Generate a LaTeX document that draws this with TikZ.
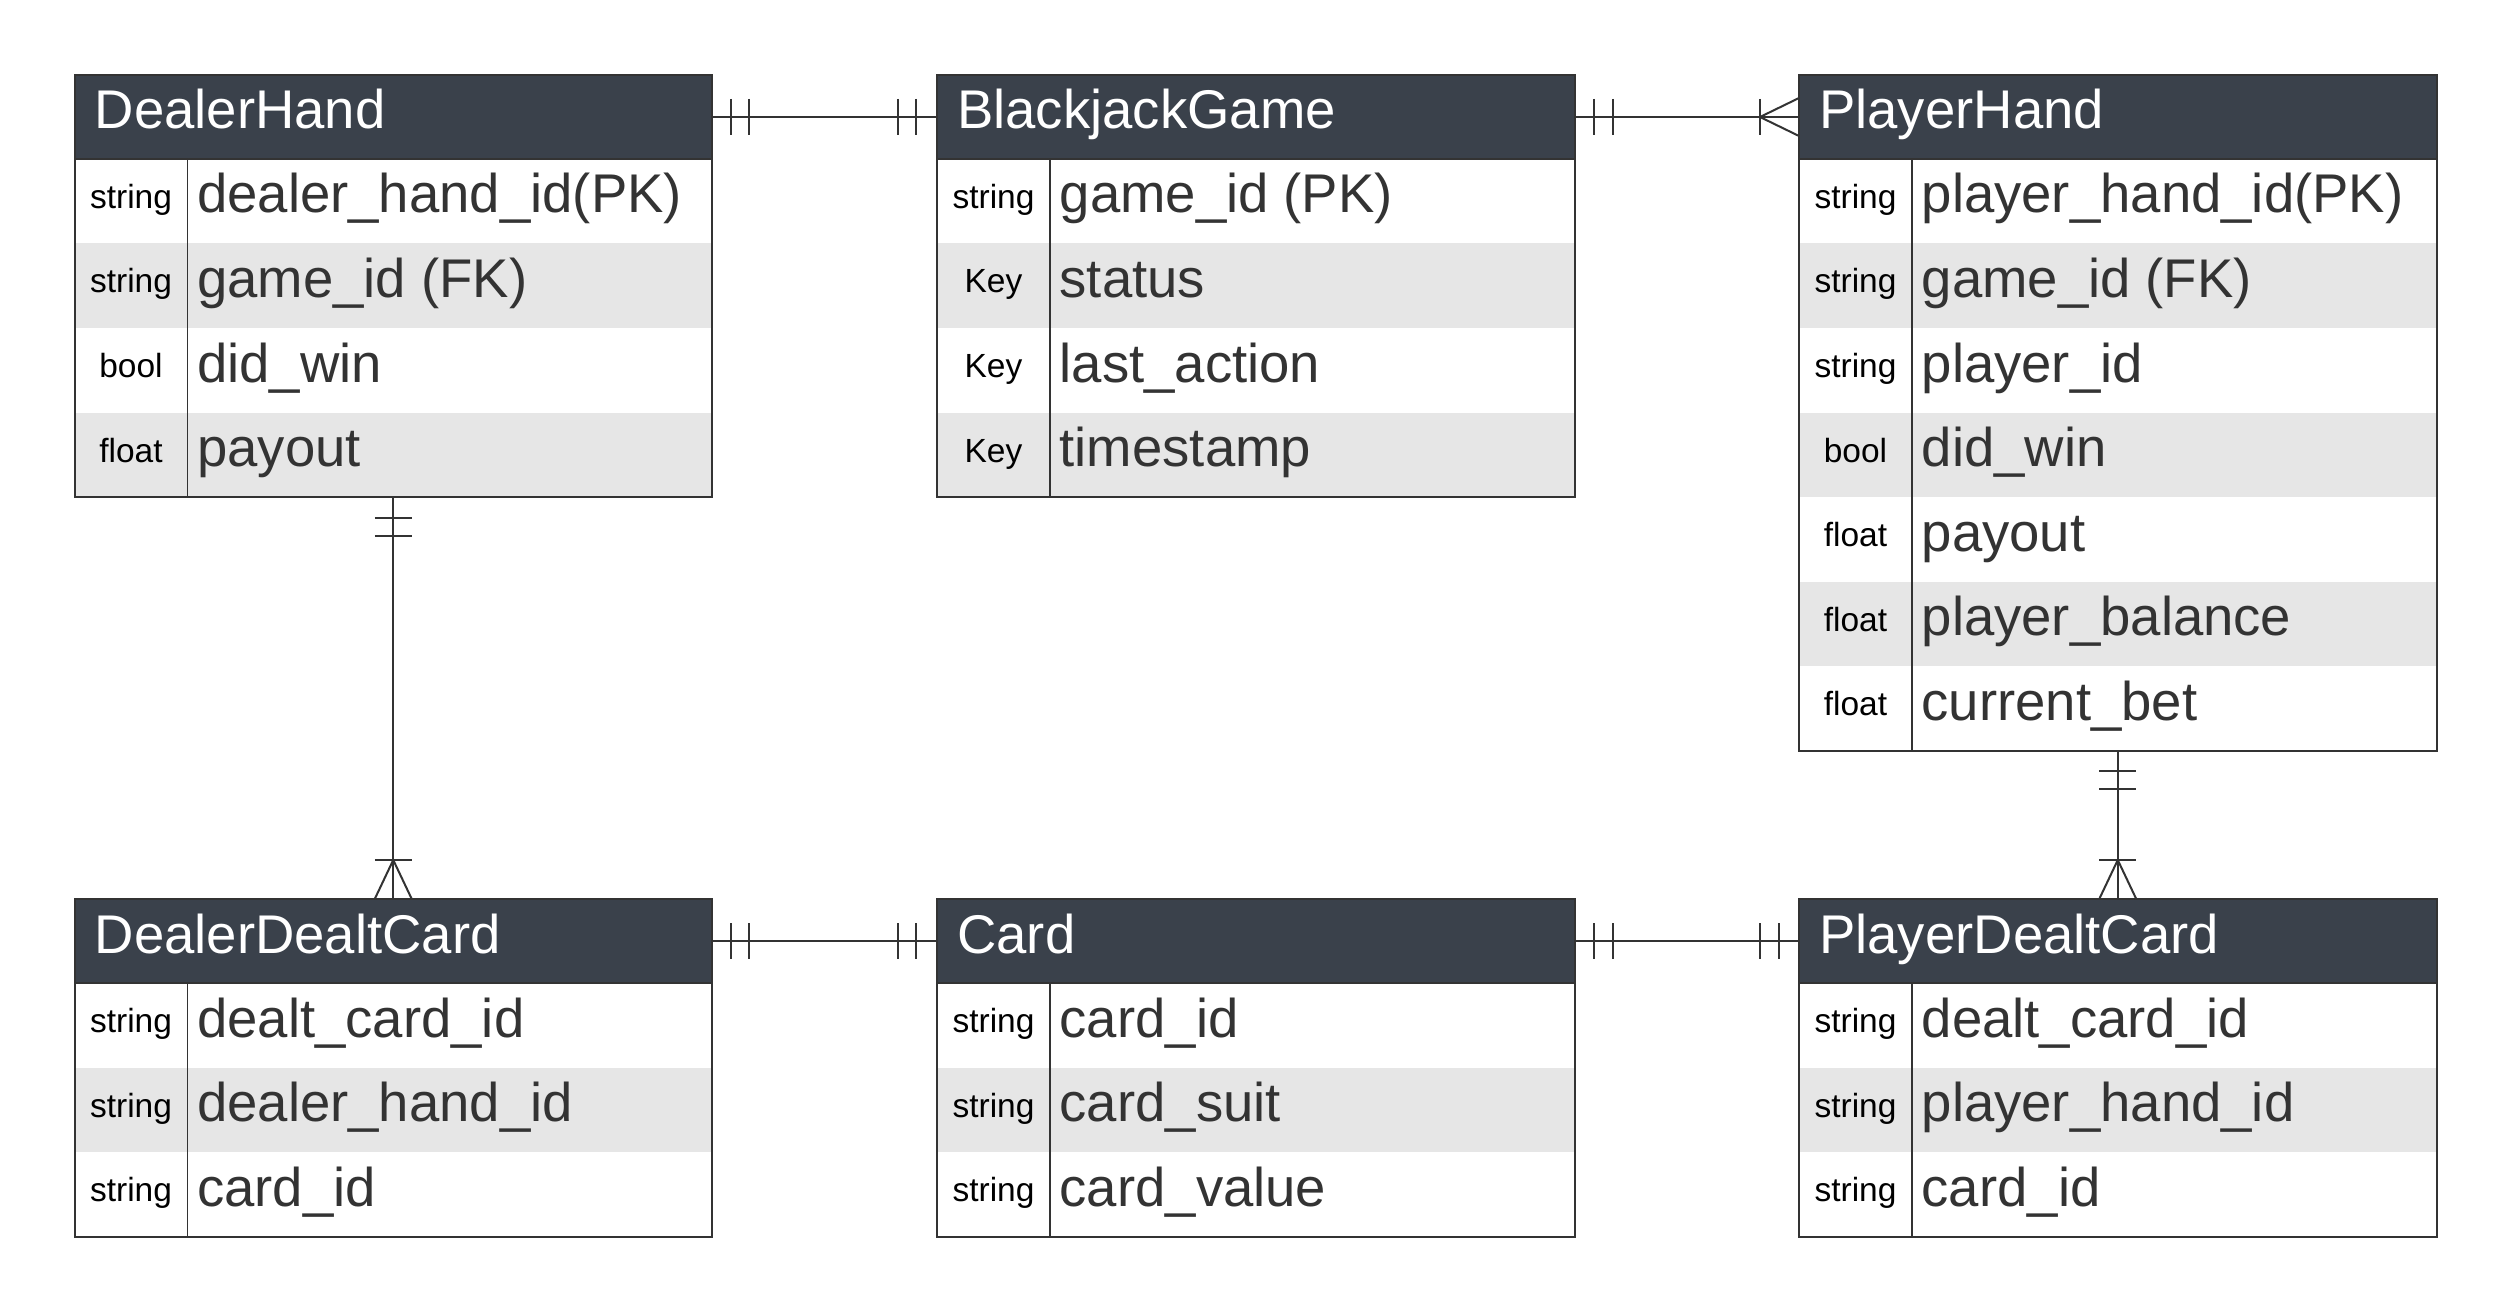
\documentclass[tikz,border=0pt]{standalone}
\usepackage{fontspec}
\setmainfont{Liberation Sans}
\usetikzlibrary{calc}
\definecolor{hdr}{HTML}{3A414B}
\definecolor{rowgray}{HTML}{E6E6E6}
\definecolor{ink}{HTML}{333333}
\tikzset{
  hdrbox/.style={fill=hdr, draw=ink, line width=2pt, minimum width=637.5pt, minimum height=84pt, inner sep=0pt, outer sep=0pt},
  hdrtext/.style={text=white, font=\fontsize{54.5pt}{60pt}\selectfont, inner sep=0pt},
  rowbox/.style={minimum width=637.5pt, minimum height=84.5pt, inner sep=0pt, outer sep=0pt},
  typetext/.style={text=black, font=\fontsize{33.5pt}{40pt}\selectfont, inner sep=0pt},
  fieldtext/.style={text=ink, font=\fontsize{54.5pt}{60pt}\selectfont, inner sep=0pt},
  frame/.style={draw=ink, line width=2pt, minimum width=637.5pt, inner sep=0pt, outer sep=0pt},
  conn/.style={draw=ink, line width=2pt},
}
\newcommand\errow[6]{% #1 name, #2 x, #3 y, #4 index, #5 type, #6 field
  \pgfmathsetmacro\rowtop{#3+84+(#4-1)*84.5}
  \ifodd#4\def\rowcol{white}\else\def\rowcol{rowgray}\fi
  \node[rowbox, fill=\rowcol, anchor=north west] (#1R#4) at (#2,\rowtop) {};
  \node[typetext, anchor=base] (#1Y#4) at (#2+56.5,\rowtop+49.5) {#5};
  \node[fieldtext, anchor=base west] (#1F#4) at (#2+122.5,\rowtop+54) {#6};
}
\newcommand\ertable[5]{% #1 name, #2 x, #3 y, #4 rows, #5 title
  \node[frame, minimum height={84pt+#4*84.5pt}, anchor=north west] (#1) at (#2,#3) {};
  \node[hdrbox, anchor=north west] (#1H) at (#2,#3) {};
  \draw[draw=ink, line width=1.6pt] ($(#1H.south west)+(113,0)$) -- ($(#1.south west)+(113,0)$);
  \node[hdrtext, anchor=base west] (#1T) at (#2+20,#3+54) {#5};
}
\begin{document}
\begin{tikzpicture}[x=1pt,y=-1pt]
\useasboundingbox[fill=white] (0,0) rectangle (2513,1313);

% DealerHand
\errow{dh}{74.5}{75}{1}{string}{dealer\_hand\_id(PK)}
\errow{dh}{74.5}{75}{2}{string}{game\_id (FK)}
\errow{dh}{74.5}{75}{3}{bool}{did\_win}
\errow{dh}{74.5}{75}{4}{float}{payout}
\ertable{dh}{74.5}{75}{4}{DealerHand}

% BlackjackGame
\errow{bg}{937}{75}{1}{string}{game\_id (PK)}
\errow{bg}{937}{75}{2}{Key}{status}
\errow{bg}{937}{75}{3}{Key}{last\_action}
\errow{bg}{937}{75}{4}{Key}{timestamp}
\ertable{bg}{937}{75}{4}{BlackjackGame}

% PlayerHand
\errow{ph}{1799}{75}{1}{string}{player\_hand\_id(PK)}
\errow{ph}{1799}{75}{2}{string}{game\_id (FK)}
\errow{ph}{1799}{75}{3}{string}{player\_id}
\errow{ph}{1799}{75}{4}{bool}{did\_win}
\errow{ph}{1799}{75}{5}{float}{payout}
\errow{ph}{1799}{75}{6}{float}{player\_balance}
\errow{ph}{1799}{75}{7}{float}{current\_bet}
\ertable{ph}{1799}{75}{7}{PlayerHand}

% DealerDealtCard
\errow{ddc}{74.5}{899}{1}{string}{dealt\_card\_id}
\errow{ddc}{74.5}{899}{2}{string}{dealer\_hand\_id}
\errow{ddc}{74.5}{899}{3}{string}{card\_id}
\ertable{ddc}{74.5}{899}{3}{DealerDealtCard}

% Card
\errow{cd}{937}{899}{1}{string}{card\_id}
\errow{cd}{937}{899}{2}{string}{card\_suit}
\errow{cd}{937}{899}{3}{string}{card\_value}
\ertable{cd}{937}{899}{3}{Card}

% PlayerDealtCard
\errow{pdc}{1799}{899}{1}{string}{dealt\_card\_id}
\errow{pdc}{1799}{899}{2}{string}{player\_hand\_id}
\errow{pdc}{1799}{899}{3}{string}{card\_id}
\ertable{pdc}{1799}{899}{3}{PlayerDealtCard}

% ---- connectors ----
% DealerHand -- BlackjackGame (one-one)
\draw[conn] (dhH.east) -- (bgH.west);
\draw[conn] ($(dhH.east)+(19,-18)$) -- ++(0,36);
\draw[conn] ($(dhH.east)+(37,-18)$) -- ++(0,36);
\draw[conn] ($(bgH.west)+(-39,-18)$) -- ++(0,36);
\draw[conn] ($(bgH.west)+(-21,-18)$) -- ++(0,36);

% BlackjackGame -- PlayerHand (one-many)
\draw[conn] (bgH.east) -- (phH.west);
\draw[conn] ($(bgH.east)+(19,-18)$) -- ++(0,36);
\draw[conn] ($(bgH.east)+(38,-18)$) -- ++(0,36);
\draw[conn] ($(phH.west)+(-39,-18)$) -- ++(0,36);
\draw[conn] ($(phH.west)+(0,-19)$) -- ($(phH.west)+(-39,0)$) -- ($(phH.west)+(0,19)$);

% DealerHand -- DealerDealtCard (one-many)
\draw[conn] (dh.south) -- (ddcH.north);
\draw[conn] ($(dh.south)+(-18.5,21)$) -- ++(37,0);
\draw[conn] ($(dh.south)+(-18.5,39)$) -- ++(37,0);
\draw[conn] ($(ddcH.north)+(-18.5,-39)$) -- ++(37,0);
\draw[conn] ($(ddcH.north)+(-18.5,0)$) -- ($(ddcH.north)+(0,-39)$) -- ($(ddcH.north)+(18.5,0)$);

% PlayerHand -- PlayerDealtCard (one-many)
\draw[conn] (ph.south) -- (pdcH.north);
\draw[conn] ($(ph.south)+(-18.5,20)$) -- ++(37,0);
\draw[conn] ($(ph.south)+(-18.5,38)$) -- ++(37,0);
\draw[conn] ($(pdcH.north)+(-18.5,-39)$) -- ++(37,0);
\draw[conn] ($(pdcH.north)+(-18.5,0)$) -- ($(pdcH.north)+(0,-39)$) -- ($(pdcH.north)+(18.5,0)$);

% DealerDealtCard -- Card (one-one)
\draw[conn] (ddcH.east) -- (cdH.west);
\draw[conn] ($(ddcH.east)+(19,-18)$) -- ++(0,36);
\draw[conn] ($(ddcH.east)+(37,-18)$) -- ++(0,36);
\draw[conn] ($(cdH.west)+(-39,-18)$) -- ++(0,36);
\draw[conn] ($(cdH.west)+(-21,-18)$) -- ++(0,36);

% Card -- PlayerDealtCard (one-one)
\draw[conn] (cdH.east) -- (pdcH.west);
\draw[conn] ($(cdH.east)+(19,-18)$) -- ++(0,36);
\draw[conn] ($(cdH.east)+(38,-18)$) -- ++(0,36);
\draw[conn] ($(pdcH.west)+(-39,-18)$) -- ++(0,36);
\draw[conn] ($(pdcH.west)+(-20,-18)$) -- ++(0,36);
\end{tikzpicture}
\end{document}
